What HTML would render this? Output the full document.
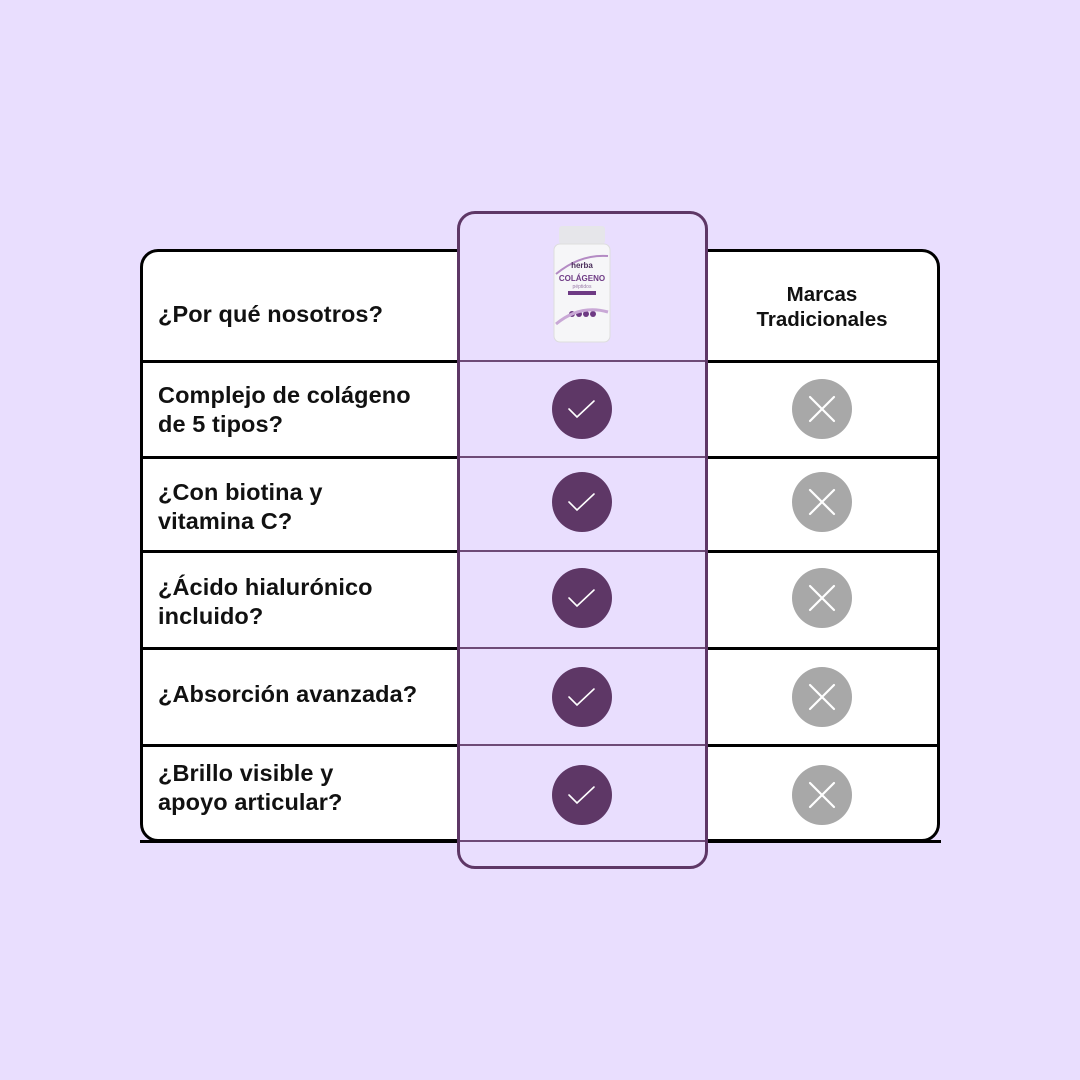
<!DOCTYPE html>
<html><head><meta charset="utf-8"><style>
body{margin:0;width:1080px;height:1080px;background:#e9defe;position:relative;overflow:hidden;font-family:"Liberation Sans",sans-serif}
.abs{position:absolute}
.t{position:absolute;left:158px;font-weight:bold;font-size:23.5px;color:#111;line-height:29px;letter-spacing:0.1px}
</style></head><body>
<div class="abs" style="left:140px;top:249px;width:794px;height:587px;border:3px solid #000;border-radius:18px;background:#fff"></div>
<div class="abs" style="left:140px;top:840px;width:801px;height:3px;background:#000"></div>
<div class="abs" style="left:140px;top:360px;width:800px;height:3px;background:#000"></div>
<div class="abs" style="left:140px;top:456px;width:800px;height:3px;background:#000"></div>
<div class="abs" style="left:140px;top:550px;width:800px;height:3px;background:#000"></div>
<div class="abs" style="left:140px;top:647px;width:800px;height:3px;background:#000"></div>
<div class="abs" style="left:140px;top:744px;width:800px;height:3px;background:#000"></div>
<div class="abs" style="left:457px;top:211px;width:245px;height:652px;border:3px solid #5e3766;border-radius:18px;background:#e9defe"></div>
<div class="abs" style="left:460px;top:360px;width:245px;height:2px;background:#6e4a77"></div>
<div class="abs" style="left:460px;top:456px;width:245px;height:2px;background:#6e4a77"></div>
<div class="abs" style="left:460px;top:550px;width:245px;height:2px;background:#6e4a77"></div>
<div class="abs" style="left:460px;top:647px;width:245px;height:2px;background:#6e4a77"></div>
<div class="abs" style="left:460px;top:744px;width:245px;height:2px;background:#6e4a77"></div>
<div class="abs" style="left:460px;top:840px;width:245px;height:2px;background:#6e4a77"></div>
<svg class="abs" style="left:550px;top:224px" width="66" height="120">
<rect x="9" y="2" width="46" height="18" rx="3" fill="#e6e6ea"/>
<rect x="4" y="20" width="56" height="98" rx="6" fill="#f6f6f8" stroke="#ddd"/>
<path d="M6 50 Q30 30 58 32" stroke="#b48bc4" stroke-width="2" fill="none"/>
<text x="32" y="44" font-size="8" text-anchor="middle" font-weight="bold" fill="#4a2e5a">herba</text>
<text x="32" y="57" font-size="8" text-anchor="middle" font-weight="bold" fill="#6e3a84">COLÁGENO</text>
<text x="32" y="64" font-size="5" text-anchor="middle" fill="#9a7aa8">péptidos</text>
<rect x="18" y="67" width="28" height="4" fill="#6e3a84"/>
<circle cx="22" cy="90" r="3" fill="#6e3a84"/><circle cx="29" cy="90" r="3" fill="#6e3a84"/><circle cx="36" cy="90" r="3" fill="#6e3a84"/><circle cx="43" cy="90" r="3" fill="#6e3a84"/>
<path d="M6 100 Q30 80 58 88" stroke="#c9a8d6" stroke-width="3" fill="none"/>
</svg>
<div class="t" style="top:300px">¿Por qué nosotros?</div>
<div class="abs" style="left:707px;top:282px;width:230px;text-align:center;font-weight:bold;font-size:20.5px;line-height:25px;color:#111">Marcas<br>Tradicionales</div>
<div class="t" style="top:381px">Complejo de colágeno<br>de 5 tipos?</div>
<div class="t" style="top:478px">¿Con biotina y<br>vitamina C?</div>
<div class="t" style="top:573px">¿Ácido hialurónico<br>incluido?</div>
<div class="t" style="top:680px">¿Absorción avanzada?</div>
<div class="t" style="top:759px">¿Brillo visible y<br>apoyo articular?</div>
<svg class="abs" style="left:0;top:0" width="1080" height="1080">
<g fill="#5e3766" stroke="#fff" stroke-width="1.6" stroke-linecap="round">
<circle cx="582" cy="409" r="30" stroke="none"/><path d="M569 409l8 8 17-16" fill="none"/>
<circle cx="582" cy="502" r="30" stroke="none"/><path d="M569 502l8 8 17-16" fill="none"/>
<circle cx="582" cy="598" r="30" stroke="none"/><path d="M569 598l8 8 17-16" fill="none"/>
<circle cx="582" cy="697" r="30" stroke="none"/><path d="M569 697l8 8 17-16" fill="none"/>
<circle cx="582" cy="795" r="30" stroke="none"/><path d="M569 795l8 8 17-16" fill="none"/>
</g>
<g fill="#a8a8a8" stroke="#fff" stroke-width="2.2" stroke-linecap="round">
<circle cx="822" cy="409" r="30" stroke="none"/><path d="M810 397l24 24M834 397l-24 24"/>
<circle cx="822" cy="502" r="30" stroke="none"/><path d="M810 490l24 24M834 490l-24 24"/>
<circle cx="822" cy="598" r="30" stroke="none"/><path d="M810 586l24 24M834 586l-24 24"/>
<circle cx="822" cy="697" r="30" stroke="none"/><path d="M810 685l24 24M834 685l-24 24"/>
<circle cx="822" cy="795" r="30" stroke="none"/><path d="M810 783l24 24M834 783l-24 24"/>
</g>
</svg>
</body></html>
